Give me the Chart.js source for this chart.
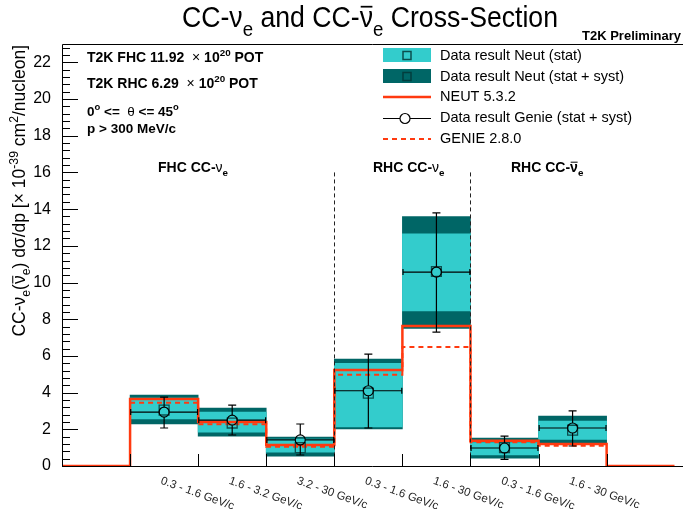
<!DOCTYPE html>
<html>
<head>
<meta charset="utf-8">
<script src="https://cdn.jsdelivr.net/npm/chart.js@4.4.0/dist/chart.umd.min.js"></script>
<style>
  body { margin: 0; background: #fff; }
  canvas { display: block; }
</style>
</head>
<body>
<canvas id="xsec" width="683" height="509"></canvas>
<script>
// Momentum bins (x axis), one label per filled bin
const binLabels = ['0.3 - 1.6 GeV/c', '1.6 - 3.2 GeV/c', '3.2 - 30 GeV/c', '0.3 - 1.6 GeV/c',
                   '1.6 - 30 GeV/c', '0.3 - 1.6 GeV/c', '1.6 - 30 GeV/c'];
const binCenters = [1.5, 2.5, 3.5, 4.5, 5.5, 6.5, 7.5];

// Data result using Neut (square marker) with stat and stat+syst bands
const neutResult = [3.05, 2.34, 1.00, 3.97, 10.60, 1.00, 1.95];
const statLow  = [2.56, 1.85, 0.76, 2.13, 8.45, 0.60, 1.45];
const statHigh = [3.70, 2.94, 1.47, 5.60, 12.65, 1.27, 2.45];
const systLow  = [2.29, 1.63, 0.54, 2.02, 7.50, 0.43, 1.20];
const systHigh = [3.87, 3.16, 1.58, 5.83, 13.60, 1.52, 2.72];

// Data result using Genie (circle marker), stat + syst
const genieResult = [2.94, 2.50, 1.42, 4.10, 10.57, 0.98, 2.07];
const genieLow    = [2.07, 1.69, 0.60, 2.07, 7.30, 0.36, 1.09];
const genieHigh   = [3.75, 3.32, 2.29, 6.10, 13.80, 1.63, 3.00];

// MC predictions (NEUT histogram also covers the empty outer bins)
const neutMC  = [0, 3.65, 2.40, 1.14, 5.23, 7.63, 1.38, 1.20, 0];
const genieMC = [3.45, 2.27, 1.05, 4.97, 6.48, 1.30, 1.10];

const FONT = "'Liberation Sans', Arial, Helvetica, sans-serif";
const CYAN = '#33cccc';
const TEAL = '#006666';
const RED = '#ff3a10';

// histogram steps: one point per bin edge
const neutSteps = neutMC.map((v, i) => ({ x: i, y: v }));
neutSteps.push({ x: neutMC.length, y: neutMC[neutMC.length - 1] });
const genieSteps = genieMC.map((v, i) => ({ x: i + 1, y: v }));
genieSteps.push({ x: genieMC.length + 1, y: genieMC[genieMC.length - 1] });

// Draw text made of segments: [text, kind] with kind '', 'sub', 'sup', 'bar', 'thin'
function drawRich(ctx, segs, x, y, size, opts = {}) {
  const weight = opts.bold ? 'bold ' : '';
  let total = 0;
  const parts = segs.map(([t, k]) => {
    const s = (k === 'sub' || k === 'sup') ? size * 0.7 : size;
    const f = (k === 'thin' ? '' : weight) + s + 'px ' + FONT;
    ctx.font = f;
    const w = ctx.measureText(t).width;
    const p = { t, k, f, s, w, dx: total };
    total += w;
    return p;
  });
  const sx = opts.width ? opts.width / total : 1;
  let x0 = 0;
  if (opts.align === 'center') x0 = -total / 2;
  if (opts.align === 'right') x0 = -total;
  ctx.save();
  ctx.translate(x, y);
  if (opts.rotate) ctx.rotate(opts.rotate);
  ctx.scale(sx, 1);
  ctx.fillStyle = opts.color || '#000';
  ctx.strokeStyle = opts.color || '#000';
  ctx.textAlign = 'left';
  ctx.textBaseline = 'alphabetic';
  parts.forEach(p => {
    ctx.font = p.f;
    let dy = 0;
    if (p.k === 'sub') dy = size * 0.3;
    if (p.k === 'sup') dy = -size * 0.42;
    ctx.fillText(p.t, x0 + p.dx, dy);
    if (p.k === 'bar') {
      ctx.lineWidth = Math.max(1, size * 0.06);
      ctx.beginPath();
      ctx.moveTo(x0 + p.dx + size * 0.04, -size * 0.7);
      ctx.lineTo(x0 + p.dx + p.w - size * 0.02, -size * 0.7);
      ctx.stroke();
    }
  });
  ctx.restore();
  return total * sx;
}

// ROOT style frame, inner ticks, error bars, texts and legend
const rootStyle = {
  id: 'rootStyle',
  afterDatasetsDraw(chart) {
    const { ctx, chartArea, scales: { x, y } } = chart;
    ctx.save();

    // dashed separators between FHC / RHC samples
    ctx.strokeStyle = '#222';
    ctx.lineWidth = 1;
    ctx.setLineDash([4, 3]);
    [4, 6].forEach(edge => {
      const px = Math.round(x.getPixelForValue(edge)) + 0.5;
      ctx.beginPath();
      ctx.moveTo(px, y.getPixelForValue(16.0));
      ctx.lineTo(px, chartArea.bottom);
      ctx.stroke();
    });
    ctx.setLineDash([]);

    // Genie error bars (gap around the circle marker)
    ctx.strokeStyle = '#000';
    ctx.lineWidth = 1.2;
    const r = 5;
    binCenters.forEach((c, i) => {
      const px = x.getPixelForValue(c);
      const py = y.getPixelForValue(genieResult[i]);
      const top = y.getPixelForValue(genieHigh[i]);
      const bot = y.getPixelForValue(genieLow[i]);
      const left = x.getPixelForValue(c - 0.5);
      const right = x.getPixelForValue(c + 0.5);
      ctx.beginPath();
      ctx.moveTo(px, top); ctx.lineTo(px, py - r);
      ctx.moveTo(px, py + r); ctx.lineTo(px, bot);
      ctx.moveTo(left, py); ctx.lineTo(px - r, py);
      ctx.moveTo(px + r, py); ctx.lineTo(right, py);
      ctx.moveTo(px - 4, top); ctx.lineTo(px + 4, top);
      ctx.moveTo(px - 4, bot); ctx.lineTo(px + 4, bot);
      ctx.moveTo(left + 0.6, py - 3); ctx.lineTo(left + 0.6, py + 3);
      ctx.moveTo(right - 0.6, py - 3); ctx.lineTo(right - 0.6, py + 3);
      ctx.stroke();
    });
    ctx.restore();
  },
  afterDraw(chart) {
    const { ctx, chartArea, scales: { x, y } } = chart;
    const { left, top, bottom } = chartArea;
    ctx.save();

    // frame
    ctx.strokeStyle = '#000';
    ctx.lineWidth = 1;
    ctx.beginPath();
    ctx.moveTo(chart.width, top + 0.5);
    ctx.lineTo(left + 0.5, top + 0.5);
    ctx.lineTo(left + 0.5, bottom + 0.5);
    ctx.lineTo(chart.width, bottom + 0.5);
    ctx.stroke();

    // y ticks: major every 2, minor every 0.4
    ctx.beginPath();
    for (let k = 0; k * 0.4 <= y.max + 1e-6; k++) {
      const py = Math.round(y.getPixelForValue(k * 0.4)) + 0.5;
      const len = (k % 5 === 0) ? 16 : 8;
      ctx.moveTo(left, py);
      ctx.lineTo(left + len, py);
    }
    // x ticks at bin edges
    for (let e = 1; e <= 8; e++) {
      const px = Math.round(x.getPixelForValue(e)) + 0.5;
      ctx.moveTo(px, bottom);
      ctx.lineTo(px, bottom - 12);
    }
    ctx.stroke();

    // rotated bin labels
    ctx.fillStyle = '#222';
    ctx.font = '11.5px ' + FONT;
    ctx.textBaseline = 'top';
    ctx.textAlign = 'left';
    binCenters.forEach((c, i) => {
      ctx.save();
      ctx.translate(x.getPixelForValue(c) - 1, bottom + 9);
      ctx.rotate(20 * Math.PI / 180);
      ctx.fillText(binLabels[i], 0, 0);
      ctx.restore();
    });

    // title
    drawRich(ctx, [['CC-ν'], ['e', 'sub'], [' and CC-'], ['ν', 'bar'], ['e', 'sub'], [' Cross-Section']],
      370, 27, 29, { align: 'center', width: 376 });
    drawRich(ctx, [['T2K Preliminary']], 681, 40, 13, { bold: true, align: 'right' });

    // y axis title
    drawRich(ctx, [['CC-ν'], ['e', 'sub'], ['('], ['ν', 'bar'], ['e', 'sub'], [') dσ/dp [× 10'], ['-39', 'sup'],
      [' cm'], ['2', 'sup'], ['/nucleon]']], 25, 45, 17.5, { align: 'right', rotate: -Math.PI / 2 });

    // run information
    drawRich(ctx, [['T2K FHC 11.92  '], ['×', 'thin'], [' 10'], ['20', 'sup'], [' POT']], 87, 62, 14, { bold: true });
    drawRich(ctx, [['T2K RHC 6.29  '], ['×', 'thin'], [' 10'], ['20', 'sup'], [' POT']], 87, 88, 14, { bold: true });
    drawRich(ctx, [['0'], ['o', 'sup'], [' <=  '], ['θ', 'thin'], [' <= 45'], ['o', 'sup']], 87, 116, 13.5, { bold: true });
    drawRich(ctx, [['p > 300 MeV/c']], 87, 133, 13.5, { bold: true });

    // sample labels
    drawRich(ctx, [['FHC CC-'], ['ν', 'thin'], ['e', 'sub']], 158, 172, 14, { bold: true });
    drawRich(ctx, [['RHC CC-'], ['ν', 'thin'], ['e', 'sub']], 373, 172, 14, { bold: true });
    drawRich(ctx, [['RHC CC-'], ['ν', 'bar'], ['e', 'sub']], 511, 172, 14, { bold: true });

    // legend
    const lx = 383, lw = 48, tx = 440;
    ctx.fillStyle = CYAN;
    ctx.fillRect(lx, 48, lw, 14);
    ctx.fillStyle = TEAL;
    ctx.fillRect(lx, 69, lw, 14);
    ctx.lineWidth = 1.5;
    ctx.strokeStyle = '#0b4f4f';
    ctx.strokeRect(lx + 20, 51.5, 8, 8);
    ctx.strokeStyle = '#023e3e';
    ctx.strokeRect(lx + 20, 72.5, 8, 8);
    ctx.strokeStyle = RED;
    ctx.lineWidth = 2.5;
    ctx.beginPath(); ctx.moveTo(lx, 97); ctx.lineTo(lx + lw, 97); ctx.stroke();
    ctx.setLineDash([5, 4]);
    ctx.lineWidth = 2;
    ctx.beginPath(); ctx.moveTo(lx, 139); ctx.lineTo(lx + lw, 139); ctx.stroke();
    ctx.setLineDash([]);
    ctx.strokeStyle = '#000';
    ctx.lineWidth = 1.2;
    ctx.beginPath();
    ctx.moveTo(lx, 118.5); ctx.lineTo(lx + 17, 118.5);
    ctx.moveTo(lx + 27, 118.5); ctx.lineTo(lx + lw, 118.5);
    ctx.stroke();
    ctx.beginPath(); ctx.arc(lx + 22, 118.5, 5, 0, Math.PI * 2); ctx.stroke();

    ctx.fillStyle = '#000';
    ctx.font = '14.5px ' + FONT;
    ctx.textBaseline = 'middle';
    ctx.fillText('Data result Neut (stat)', tx, 56);
    ctx.fillText('Data result Neut (stat + syst)', tx, 77);
    ctx.fillText('NEUT 5.3.2', tx, 97);
    ctx.fillText('Data result Genie (stat + syst)', tx, 118);
    ctx.fillText('GENIE 2.8.0', tx, 139);
    ctx.restore();
  }
};

new Chart(document.getElementById('xsec'), {
  type: 'bar',
  data: {
    datasets: [
      {
        type: 'line', label: 'Data result Genie (stat + syst)', order: 1, showLine: false,
        data: binCenters.map((c, i) => ({ x: c, y: genieResult[i] })),
        pointStyle: 'circle', pointRadius: 5, pointBorderWidth: 1.2,
        pointBorderColor: '#000', pointBackgroundColor: 'rgba(0,0,0,0)'
      },
      {
        type: 'line', label: 'Data result Neut', order: 2, showLine: false,
        data: binCenters.map((c, i) => ({ x: c, y: neutResult[i] })),
        pointStyle: 'rect', pointRadius: 7, pointBorderWidth: 1.3,
        pointBorderColor: '#0b4f4f', pointBackgroundColor: 'rgba(0,0,0,0)'
      },
      {
        type: 'line', label: 'GENIE 2.8.0', order: 3, data: genieSteps, stepped: true,
        borderColor: RED, borderWidth: 2, borderDash: [5, 4], pointRadius: 0, fill: false
      },
      {
        type: 'line', label: 'NEUT 5.3.2', order: 4, data: neutSteps, stepped: true,
        borderColor: RED, borderWidth: 2.5, pointRadius: 0, fill: false
      },
      {
        label: 'Data result Neut (stat)', order: 5,
        data: binCenters.map((c, i) => ({ x: c, y: [statLow[i], statHigh[i]] })),
        backgroundColor: CYAN, borderWidth: 0, grouped: false,
        barPercentage: 1, categoryPercentage: 1
      },
      {
        label: 'Data result Neut (stat + syst)', order: 6,
        data: binCenters.map((c, i) => ({ x: c, y: [systLow[i], systHigh[i]] })),
        backgroundColor: TEAL, borderWidth: 0, grouped: false,
        barPercentage: 1, categoryPercentage: 1
      }
    ]
  },
  options: {
    responsive: false,
    animation: false,
    layout: { padding: { top: 44, left: 0, right: 0, bottom: 0 } },
    plugins: { legend: { display: false }, tooltip: { enabled: false }, title: { display: false } },
    scales: {
      x: {
        type: 'linear', min: 0, max: 9, offset: false,
        ticks: { display: false, stepSize: 1 },
        grid: { display: false, offset: false },
        border: { display: false },
        afterFit: scale => { scale.height = 43; }
      },
      y: {
        type: 'linear', min: 0, max: 23,
        ticks: {
          stepSize: 2, includeBounds: false, padding: 11, color: '#000',
          font: { family: FONT, size: 16 }
        },
        grid: { display: false, drawTicks: false },
        border: { display: false },
        afterFit: scale => { scale.height = undefined; scale.width = 62; }
      }
    }
  },
  plugins: [rootStyle]
});
</script>
</body>
</html>
